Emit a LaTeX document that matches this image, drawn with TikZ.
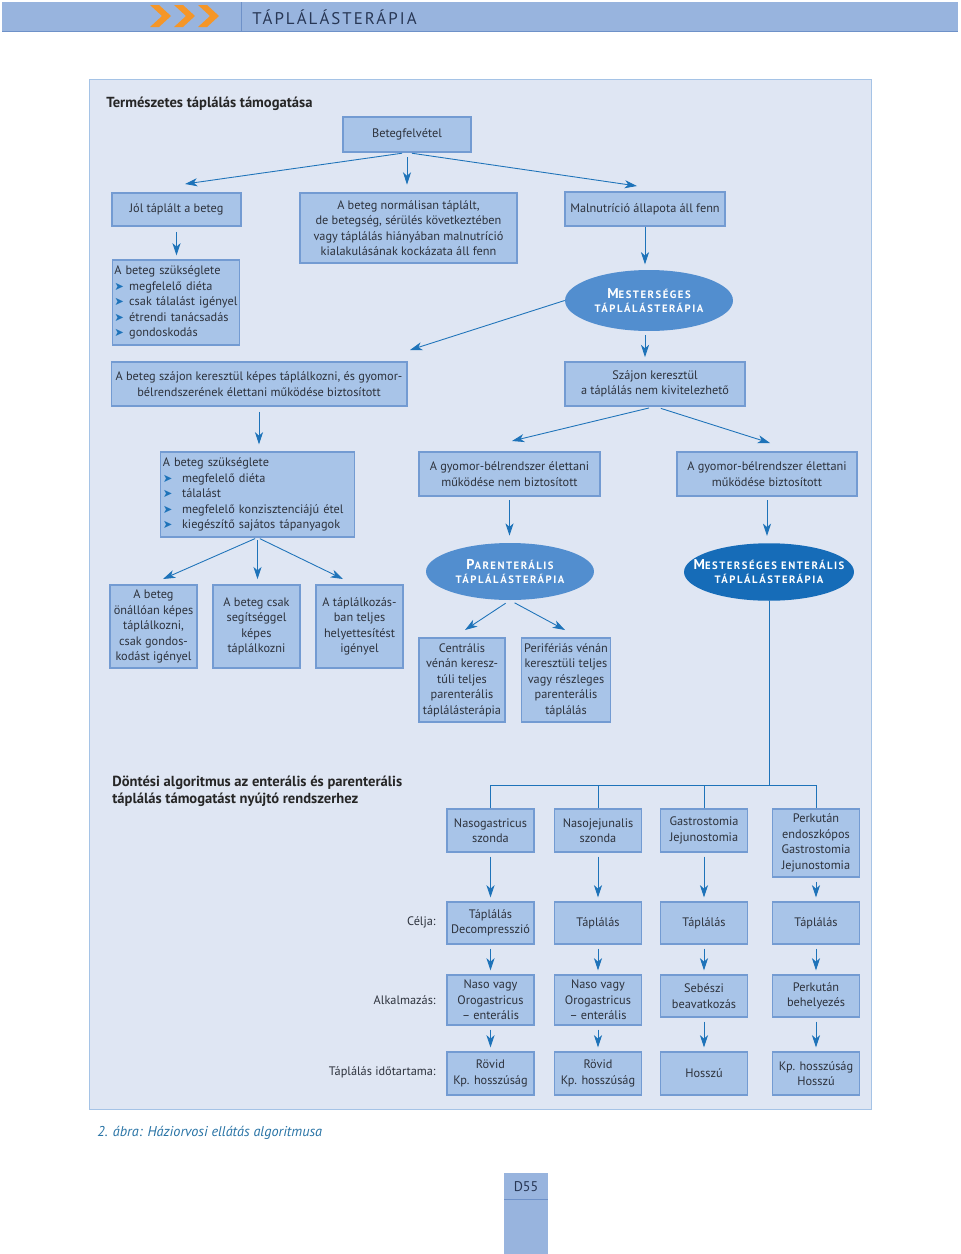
\documentclass[tikz,border=0pt]{standalone}
\usepackage{fontspec}
\setmainfont{PT Sans}
\newfontfamily\symfont{DejaVu Sans}
\usetikzlibrary{shapes.geometric,arrows.meta,positioning}

\definecolor{bandblue}{RGB}{152,180,222}
\definecolor{bandline}{RGB}{110,145,200}
\definecolor{headtext}{RGB}{40,55,85}
\definecolor{panelfill}{RGB}{223,230,243}
\definecolor{panelline}{RGB}{165,195,230}
\definecolor{boxfill}{RGB}{168,196,232}
\definecolor{boxline}{RGB}{115,155,210}
\definecolor{ovalfill}{RGB}{82,142,207}
\definecolor{ovaldark}{RGB}{22,108,184}
\definecolor{arrowblue}{RGB}{30,115,185}
\definecolor{textgrey}{RGB}{45,50,60}
\definecolor{capblue}{RGB}{40,115,165}
\definecolor{chevron}{RGB}{245,150,40}

\newcommand{\boxfont}{\fontsize{7}{8.8}\selectfont}
\newcommand{\ovalfont}{\fontsize{6.1}{8}\selectfont\bfseries\addfontfeatures{LetterSpace=14}}
\newcommand{\ovalcap}[1]{{\fontsize{8.1}{8}\selectfont #1}}
\newcommand{\listmark}[1]{\makebox[#1][l]{\textcolor{arrowblue}{\symfont\fontsize{6.5}{8}\selectfont ➤}}}

\tikzset{
  box/.style={draw=boxline, line width=0.6pt, fill=boxfill, text=textgrey, align=center, inner sep=1.5pt, font=\boxfont},
  oval/.style={ellipse, fill=ovalfill, inner sep=0pt},
  ovaltext/.style={text=white, align=center, inner sep=0pt, font=\ovalfont},
  arr/.style={draw=arrowblue, line width=0.5pt, -{Stealth[length=7pt,width=4.6pt,inset=2pt]}},
  link/.style={draw=arrowblue, line width=0.5pt},
  title/.style={anchor=west, inner sep=0pt, align=left, text=black!85, font=\fontsize{8.3}{9.2}\selectfont\bfseries},
  rowlabel/.style={anchor=east, inner sep=0pt, text=textgrey, font=\boxfont}
}

\begin{document}
\begin{tikzpicture}[x=0.02cm,y=-0.02cm]
  \useasboundingbox (0,0) rectangle (960,1254);

  % HEADER
  \fill[bandblue] (2,2) rectangle (958,31);
  \draw[bandline] (2,31) -- (958,31);
  \draw[bandline] (241,2) -- (241,31);
  \foreach \cx in {150,174,198}
    \fill[chevron] (\cx,5) -- (\cx+9,5) -- (\cx+21,16) -- (\cx+9,27) -- (\cx,27) -- (\cx+12,16) -- cycle;
  \node[anchor=west, inner sep=0pt, text=headtext, font=\fontsize{9.6}{12}\selectfont\addfontfeatures{LetterSpace=12}] (head) at (252,17) {TÁPLÁLÁSTERÁPIA};

  % PANEL
  \draw[panelline, fill=panelfill] (89,79) rectangle (871,1109);
  \node[title] (natural) at (106,104) {Természetes táplálás támogatása};

  % UPPER TREE
  \node[box, minimum width=2.56cm, minimum height=0.7cm] (felv) at (407,134.5) {Betegfelvétel};
  \node[box, minimum width=2.58cm, minimum height=0.66cm] (jol) at (176.5,209.5) {Jól táplált a beteg};
  \node[box, minimum width=4.34cm, minimum height=1.4cm] (norm) at (408.5,228) {A beteg normálisan táplált,\\de betegség, sérülés következtében\\vagy táplálás hiányában malnutríció\\kialakulásának kockázata áll fenn};
  \node[box, minimum width=3.2cm, minimum height=0.68cm] (maln) at (645,209) {Malnutríció állapota áll fenn};
  \node[box, align=left, inner xsep=1.2pt, text width=2.47cm, minimum height=1.7cm] (igeny) at (176,302.5) {A beteg szükséglete\\\listmark{8.5pt}megfelelő diéta\\\listmark{8.5pt}csak tálalást igényel\\\listmark{8.5pt}étrendi tanácsadás\\\listmark{8.5pt}gondoskodás};
  \node[oval, minimum width=3.36cm, minimum height=1.22cm, label={[ovaltext]center:{\ovalcap{M}ESTERSÉGES\\TÁPLÁLÁSTERÁPIA}}] (mest) at (649,300.5) {};
  \node[box, minimum width=5.92cm, minimum height=0.88cm] (szaj) at (259,384) {A beteg szájon keresztül képes táplálkozni, és gyomor-\\bélrendszerének élettani működése biztosított};
  \node[box, minimum width=3.6cm, minimum height=0.88cm] (nemkiv) at (655,384) {Szájon keresztül\\a táplálás nem kivitelezhető};

  \coordinate (tipL) at (185,184);
  \coordinate (tipR) at (637,186);
  \coordinate (tipS) at (410,350);
  \draw[arr, shorten <=2.8pt] (felv.south) -- (tipL);
  \draw[arr, shorten <=2.8pt, shorten >=4.5pt] (felv.south) -- (felv.south |- norm.north);
  \draw[arr, shorten <=2.8pt] (felv.south) -- (tipR);
  \draw[arr, shorten <=3pt, shorten >=2.3pt] (jol.south) -- (jol.south |- igeny.north);
  \draw[arr, shorten >=3pt] (maln.south) -- (maln.south |- mest.north);
  \draw[arr, shorten <=2pt, shorten >=2.5pt] (maln.south |- mest.south) -- (maln.south |- nemkiv.north);
  \draw[arr] (mest.west) -- (tipS);

  % MIDDLE TREE
  \node[box, align=left, text width=3.79cm, minimum height=1.7cm] (igeny2) at (257.5,494.5) {A beteg szükséglete\\\listmark{11pt}megfelelő diéta\\\listmark{11pt}tálalást\\\listmark{11pt}megfelelő konzisztenciájú étel\\\listmark{11pt}kiegészítő sajátos tápanyagok};
  \node[box, minimum width=3.62cm, minimum height=0.88cm] (gyn) at (509.5,474) {A gyomor-bélrendszer élettani\\működése nem biztosított};
  \node[box, minimum width=3.6cm, minimum height=0.88cm] (gyb) at (767,474) {A gyomor-bélrendszer élettani\\működése biztosított};
  \node[oval, minimum width=3.36cm, minimum height=1.14cm, label={[ovaltext]center:{\ovalcap{P}ARENTERÁLIS\\TÁPLÁLÁSTERÁPIA}}] (par) at (510,571.5) {};
  \node[oval, fill=ovaldark, minimum width=3.4cm, minimum height=1.15cm, label={[ovaltext]center:{\ovalcap{M}ESTERSÉGES ENTERÁLIS\\TÁPLÁLÁSTERÁPIA}}] (ent) at (769,572) {};

  \coordinate (tipN) at (512,441);
  \coordinate (tipB) at (770,443);
  \draw[arr, shorten <=3pt, shorten >=4pt] (szaj.south) -- (szaj.south |- igeny2.north);
  \draw[arr, shorten <=3.5pt] (nemkiv.south) -- (tipN);
  \draw[arr, shorten <=3.5pt] (nemkiv.south) -- (tipB);
  \draw[arr, shorten <=2pt, shorten >=4pt] (gyn.south) -- (gyn.south |- par.north);
  \draw[arr, shorten <=2pt, shorten >=4pt] (gyb.south) -- (gyb.south |- ent.north);

  % LOWER TREE
  \node[box, minimum width=1.74cm, minimum height=1.66cm] (selfeat) at (153.5,626.5) {A beteg\\önállóan képes\\táplálkozni,\\csak gondos-\\kodást igényel};
  \node[box, minimum width=1.74cm, minimum height=1.66cm] (helped) at (256.5,626.5) {A beteg csak\\segítséggel\\képes\\táplálkozni};
  \node[box, minimum width=1.74cm, minimum height=1.66cm] (replace) at (359.5,626.5) {A táplálkozás-\\ban teljes\\helyettesítést\\igényel};
  \node[box, minimum width=1.72cm, minimum height=1.68cm] (central) at (462,680) {Centrális\\vénán keresz-\\túli teljes\\parenterális\\táplálásterápia};
  \node[box, minimum width=1.72cm, minimum height=1.68cm] (periph) at (566,680) {Perifériás vénán\\keresztüli teljes\\vagy részleges\\parenterális\\táplálás};

  \coordinate (tipA) at (163,579);
  \coordinate (tipC) at (343,579);
  \coordinate (tipP) at (465,630);
  \coordinate (tipQ) at (565,630);
  \draw[arr, shorten <=1.5pt] (igeny2.south) -- (tipA);
  \draw[arr, shorten <=1.5pt, shorten >=3pt] (igeny2.south) -- (igeny2.south |- helped.north);
  \draw[arr, shorten <=1.5pt] (igeny2.south) -- (tipC);
  \draw[arr, shorten <=3pt] (par.south) -- (tipP);
  \draw[arr, shorten <=3pt] (par.south) -- (tipQ);

  % ENTERAL SYSTEMS
  \node[title, anchor=north west] (decide) at (112,776) {Döntési algoritmus az enterális és parenterális\\táplálás támogatást nyújtó rendszerhez};

  \node[box, minimum width=1.74cm, minimum height=0.86cm] (ngs) at (490.5,830.5) {Nasogastricus\\szonda};
  \node[box, minimum width=1.74cm, minimum height=0.86cm] (njs) at (598,830.5) {Nasojejunalis\\szonda};
  \node[box, minimum width=1.74cm, minimum height=0.86cm] (gjs) at (704,830.5) {Gastrostomia\\Jejunostomia};
  \node[box, minimum width=1.74cm, minimum height=1.36cm] (pegj) at (816,843) {Perkután\\endoszkópos\\Gastrostomia\\Jejunostomia};

  \node[box, minimum width=1.74cm, minimum height=0.84cm] (aim1) at (490.5,923) {Táplálás\\Decompresszió};
  \node[box, minimum width=1.74cm, minimum height=0.84cm] (aim2) at (598,923) {Táplálás};
  \node[box, minimum width=1.74cm, minimum height=0.84cm] (aim3) at (704,923) {Táplálás};
  \node[box, minimum width=1.74cm, minimum height=0.84cm] (aim4) at (816,923) {Táplálás};

  \node[box, minimum width=1.74cm, minimum height=1.0cm] (use1) at (490.5,1000) {Naso vagy\\Orogastricus\\-- enterális};
  \node[box, minimum width=1.74cm, minimum height=1.0cm] (use2) at (598,1000) {Naso vagy\\Orogastricus\\-- enterális};
  \node[box, minimum width=1.74cm, minimum height=0.84cm] (use3) at (704,996) {Sebészi\\beavatkozás};
  \node[box, minimum width=1.74cm, minimum height=0.84cm] (use4) at (816,996) {Perkután\\behelyezés};

  \node[box, minimum width=1.74cm, minimum height=0.86cm] (dur1) at (490.5,1073.5) {Rövid\\Kp. hosszúság};
  \node[box, minimum width=1.74cm, minimum height=0.86cm] (dur2) at (598,1073.5) {Rövid\\Kp. hosszúság};
  \node[box, minimum width=1.74cm, minimum height=0.86cm] (dur3) at (704,1073.5) {Hosszú};
  \node[box, minimum width=1.74cm, minimum height=0.86cm] (dur4) at (816,1073.5) {Kp. hosszúság\\Hosszú};

  \node[rowlabel] (aimlab) at (436,922) {Célja:};
  \node[rowlabel] (uselab) at (436,1000) {Alkalmazás:};
  \node[rowlabel] (durlab) at (436,1072) {Táplálás időtartama:};

  \coordinate (bus) at (769,785);
  \draw[link] (ent.south) -- (bus);
  \draw[link] (ngs.north) -- (ngs.north |- bus) -- (pegj.north |- bus) -- (pegj.north);
  \draw[link] (njs.north) -- (njs.north |- bus);
  \draw[link] (gjs.north) -- (gjs.north |- bus);

  \foreach \a/\b in {ngs/aim1, njs/aim2, gjs/aim3, pegj/aim4,
                     aim1/use1, aim2/use2, aim3/use3, aim4/use4,
                     use1/dur1, use2/dur2, use3/dur3, use4/dur4}
    \draw[arr, shorten <=2.3pt, shorten >=2.3pt] (\a.south) -- (\b.north);

  % FOOTER
  \node[anchor=west, inner sep=0pt, text=capblue, font=\fontsize{8.1}{9}\selectfont\itshape] (caption) at (97,1133) {2. ábra: Háziorvosi ellátás algoritmusa};
  \fill[bandblue] (504,1173) rectangle (548,1254);
  \draw[bandline] (504,1199) -- (548,1199);
  \node[inner sep=0pt, text=headtext, font=\fontsize{8}{9}\selectfont] (pagenum) at (526,1187) {D55};
\end{tikzpicture}
\end{document}
